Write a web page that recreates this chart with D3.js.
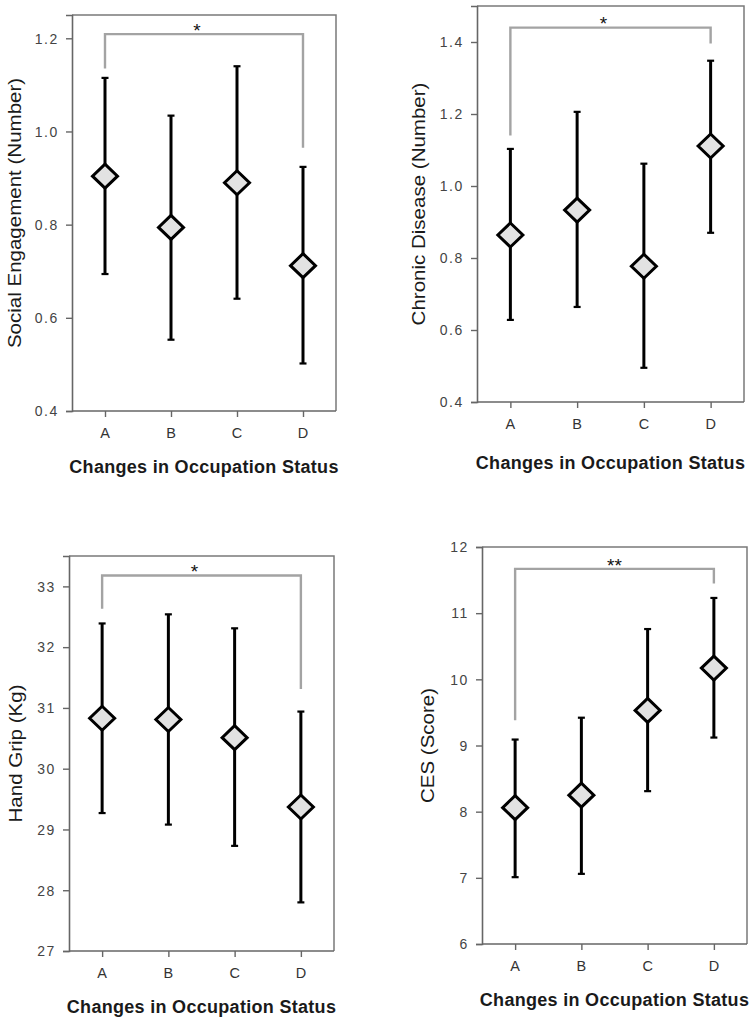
<!DOCTYPE html>
<html><head><meta charset="utf-8">
<script src="https://cdn.jsdelivr.net/npm/d3@7"></script>
<style>body{margin:0;background:#fff}svg{display:block}</style>
</head><body>
<script>
// ---- data ----
const categories = ["A", "B", "C", "D"];
const xTitle = "Changes in Occupation Status";

const socialMean = [0.904, 0.794, 0.890, 0.712];
const socialLow  = [0.694, 0.553, 0.641, 0.502];
const socialHigh = [1.115, 1.034, 1.140, 0.924];
const socialTicks = [0.4, 0.6, 0.8, 1.0, 1.2];
const socialBracket = [1.135, 1.209, 0.965]; // left end, top, right end
const socialSig = "*";

const chronicMean = [0.864, 0.933, 0.777, 1.111];
const chronicLow  = [0.628, 0.664, 0.495, 0.870];
const chronicHigh = [1.103, 1.206, 1.062, 1.348];
const chronicTicks = [0.4, 0.6, 0.8, 1.0, 1.2, 1.4];
const chronicBracket = [1.14, 1.44, 1.396];
const chronicSig = "*";

const gripMean = [30.83, 30.81, 30.51, 29.37];
const gripLow  = [29.27, 29.08, 28.73, 27.80];
const gripHigh = [32.39, 32.54, 32.31, 30.94];
const gripTicks = [27, 28, 29, 30, 31, 32, 33];
const gripBracket = [32.63, 33.18, 31.31];
const gripSig = "*";

const cesMean = [8.06, 8.25, 9.53, 10.17];
const cesLow  = [7.01, 7.06, 8.31, 9.12];
const cesHigh = [9.09, 9.42, 10.76, 11.23];
const cesTicks = [6, 7, 8, 9, 10, 11, 12];
const cesBracket = [9.38, 11.67, 11.45];
const cesSig = "**";

// ---- layout ----
const panels = [
  {label: "Social Engagement (Number)", mean: socialMean, low: socialLow, high: socialHigh,
   ticks: socialTicks, fmt: d3.format(".1f"), bracket: socialBracket, sig: socialSig,
   domain: [0.4, 1.25], left: 72, right: 336, top: 15, bottom: 411, ylabX: -57, titleDy: 56, starDx: -7},
  {label: "Chronic Disease (Number)", mean: chronicMean, low: chronicLow, high: chronicHigh,
   ticks: chronicTicks, fmt: d3.format(".1f"), bracket: chronicBracket, sig: chronicSig,
   domain: [0.4, 1.5], left: 477, right: 744, top: 6, bottom: 402, ylabX: -58, titleDy: 61, starDx: -7},
  {label: "Hand Grip (Kg)", mean: gripMean, low: gripLow, high: gripHigh,
   ticks: gripTicks, fmt: d3.format("d"), bracket: gripBracket, sig: gripSig,
   domain: [27, 33.5], left: 69, right: 334, top: 556, bottom: 951, ylabX: -53, titleDy: 56, starDx: -7},
  {label: "CES (Score)", mean: cesMean, low: cesLow, high: cesHigh,
   ticks: cesTicks, fmt: d3.format("d"), bracket: cesBracket, sig: cesSig,
   domain: [6, 12], left: 482, right: 747, top: 547, bottom: 944, ylabX: -54, titleDy: 56, starDx: 0}
];

const W = 754, H = 1022;
const FONT = "'Liberation Sans', Arial, sans-serif";

const svg = d3.select("body").append("svg").attr("width", W).attr("height", H);

function stretchText(g, x, y, k, rot) {
  return g.append("text")
    .attr("transform", `translate(${x},${y}) scale(1,${k})` + (rot ? ` rotate(${rot})` : ""));
}

panels.forEach(p => {
  const x = d3.scalePoint().domain(categories).range([p.left, p.right]).padding(0.5);
  const y = d3.scaleLinear().domain(p.domain).range([p.bottom, p.top]);
  const g = svg.append("g");

  // frame (top & right)
  g.append("path")
    .attr("d", `M${p.left},${p.top}H${p.right}V${p.bottom}`)
    .attr("fill", "none").attr("stroke", "#7a7a7a").attr("stroke-width", 1.5);

  // y axis
  const ya = g.append("g").attr("transform", `translate(${p.left},0)`)
    .call(d3.axisLeft(y).tickValues(p.ticks).tickFormat(() => "").tickSizeOuter(0).tickSize(6));
  ya.select(".domain").attr("stroke", "#666").attr("stroke-width", 1.6);
  ya.selectAll(".tick line").attr("stroke", "#666").attr("stroke-width", 1.4);
  p.ticks.forEach(t => {
    stretchText(g, p.left - 13, y(t), 1.05)
      .attr("text-anchor", "end").attr("dy", "0.36em")
      .attr("font-family", FONT).attr("font-size", 14).attr("letter-spacing", 1.6).attr("fill", "#444")
      .text(p.fmt(t));
  });

  // x axis
  const xa = g.append("g").attr("transform", `translate(0,${p.bottom})`)
    .call(d3.axisBottom(x).tickFormat(() => "").tickSizeOuter(0).tickSize(6));
  xa.select(".domain").attr("stroke", "#666").attr("stroke-width", 1.6)
    .attr("d", `M${p.left},0H${p.right}`);
  xa.selectAll(".tick line").attr("stroke", "#666").attr("stroke-width", 1.4);
  categories.forEach(c => {
    stretchText(g, x(c), p.bottom + 22, 1.05)
      .attr("text-anchor", "middle").attr("dy", "0.36em")
      .attr("font-family", FONT).attr("font-size", 14.5).attr("fill", "#333")
      .text(c);
  });

  // axis titles
  stretchText(g, (p.left + p.right) / 2, p.bottom + p.titleDy, 1.0)
    .attr("text-anchor", "middle").attr("dy", "0.36em")
    .attr("font-family", FONT).attr("font-size", 18).attr("font-weight", "bold")
    .attr("letter-spacing", 0.3).attr("fill", "#1a1a1a")
    .text(xTitle);
  stretchText(g, p.left + p.ylabX, (p.top + p.bottom) / 2, 1.14, -90)
    .attr("text-anchor", "middle").attr("dy", "0.36em")
    .attr("font-family", FONT).attr("font-size", 18).attr("fill", "#1a1a1a")
    .text(p.label);

  // significance bracket
  const xa0 = x(categories[0]), xd = x(categories[3]);
  g.append("path")
    .attr("d", `M${xa0},${y(p.bracket[0])}V${y(p.bracket[1])}H${xd}V${y(p.bracket[2])}`)
    .attr("fill", "none").attr("stroke", "#a3a3a3").attr("stroke-width", 2.4);
  stretchText(g, (xa0 + xd) / 2 + p.starDx, y(p.bracket[1]) - 9, 1.0)
    .attr("text-anchor", "middle").attr("dy", "0.62em")
    .attr("font-family", FONT).attr("font-size", 19).attr("fill", "#111")
    .text(p.sig);

  // error bars
  categories.forEach((c, i) => {
    const cx = x(c);
    g.append("line").attr("x1", cx).attr("x2", cx)
      .attr("y1", y(p.low[i])).attr("y2", y(p.high[i]))
      .attr("stroke", "#000").attr("stroke-width", 3);
    [p.low[i], p.high[i]].forEach(v => {
      g.append("line").attr("x1", cx - 3.5).attr("x2", cx + 3.5)
        .attr("y1", y(v)).attr("y2", y(v))
        .attr("stroke", "#000").attr("stroke-width", 2.2);
    });
  });

  // diamonds
  categories.forEach((c, i) => {
    const cx = x(c), cy = y(p.mean[i]);
    const hw = 12.5, hh = 12;
    g.append("path")
      .attr("d", `M${cx},${cy - hh}L${cx + hw},${cy}L${cx},${cy + hh}L${cx - hw},${cy}Z`)
      .attr("fill", "#e2e2e2").attr("stroke", "#000").attr("stroke-width", 3)
      .attr("stroke-linejoin", "miter");
  });
});
</script>
</body></html>
